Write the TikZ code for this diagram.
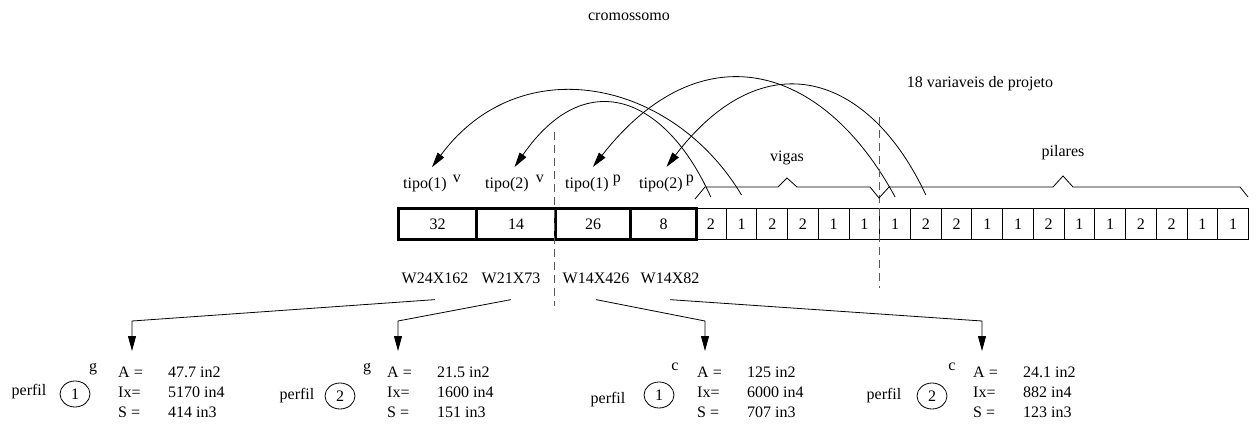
\documentclass[tikz,border=0pt]{standalone}
\usepackage{fontspec}
\setmainfont{Liberation Serif}
\usetikzlibrary{arrows.meta,shapes.geometric}

\tikzset{
  gene/.style={draw, line width=3pt, minimum height=31pt, inner sep=0pt, anchor=west},
  bit/.style={draw, line width=0.9pt, minimum height=31pt, minimum width=30.72pt, inner sep=0pt, anchor=west},
  tipo/.style={anchor=base west, inner xsep=0pt},
  seta/.style={line width=0.8pt, -{Triangle[length=15pt,width=8pt]}},
  corte/.style={black!65, line width=1pt, dash pattern=on 8pt off 5pt},
  bitola/.style={inner ysep=16pt},
  bola/.style={draw, ellipse, line width=0.8pt, minimum width=30pt, minimum height=26pt, inner sep=0pt},
  dados/.style={anchor=north west, inner xsep=0pt, inner ysep=12pt}
}
\newcommand{\tabperfil}[3]{%
  \renewcommand{\arraystretch}{1.04}%
  \begin{tabular}{@{}p{50pt}@{}l@{}}A = & #1\\ Ix= & #2\\ S = & #3\end{tabular}}

\begin{document}
\begin{tikzpicture}[x=1pt, y=-1pt, font=\fontsize{16}{19.2}\selectfont]
  \useasboundingbox (0,0) rectangle (1258,439);
  \node (titulo) at (629,17) {cromossomo};
  \node (nvar) at (980,84) {18 variaveis de projeto};

  % genes de tipo
  \foreach \x/\w/\v [count=\i] in {397/78/32, 475/79/14, 554/75/26, 629/66/8}
    \node[gene, minimum width=\w pt] (t\i) at (\x,224) {\v};
  % 18 variaveis de projeto
  \foreach \v [count=\i] in {2,1,2,2,1,1,1,2,2,1,1,2,1,1,2,2,1,1}
    \node[bit] (c\i) at ({695+(\i-1)*30.72},224) {\v};

  % tipos
  \node[tipo] (tv1) at (403,188) {tipo(1)\hspace{6pt}\raisebox{6pt}{v}};
  \node[tipo] (tv2) at (485,188) {tipo(2)\hspace{7pt}\raisebox{6pt}{v}};
  \node[tipo] (tp1) at (565,188) {tipo(1)\hspace{4pt}\raisebox{6pt}{p}};
  \node[tipo] (tp2) at (639,188) {tipo(2)\hspace{3pt}\raisebox{6pt}{p}};

  \draw[seta] ([yshift=13pt]c2.north) .. controls (672,79) and (520,48) .. ([yshift=4pt]tv1.north);
  \draw[seta] ([yshift=11pt]c1.north) .. controls (665,95) and (585,65) .. ([yshift=4pt]tv2.north);
  \draw[seta] ([yshift=11pt]c7.north) .. controls (822,62) and (700,30) .. ([yshift=4pt]tp1.north);
  \draw[seta] ([yshift=13pt]c8.north) .. controls (870,75) and (765,38) .. ([yshift=4pt]tp2.north);

  % cortes
  \draw[corte] (554,132) -- (554,306);
  \draw[corte] (879,117) -- (879,288);

  % chaves
  \draw[line width=0.8pt] (695,199) -- (705,187) -- (778,187) -- (787,178) -- (797,187) -- (870,187)
    -- (879,198) -- (889,187) -- (1053,187) -- (1063,176) -- (1073,187) -- (1240,187) -- (1248,197);
  \node (vigas) at (787,158) {vigas};
  \node (pilares) at (1063,153) {pilares};

  % bitolas
  \node[bitola] (w1) at (435,278) {W24X162};
  \node[bitola] (w2) at (511,278) {W21X73};
  \node[bitola] (w3) at (596,278) {W14X426};
  \node[bitola] (w4) at (670,278) {W14X82};

  % perfis
  \node (pf1) at (29,392) {perfil};
  \node[bola] (n1) at (75,394) {1};
  \node (e1) at (93,369) {g};
  \node[dados] (d1) at (118,351) {\tabperfil{47.7 in2}{5170 in4}{414 in3}};

  \node (pf2) at (297,396) {perfil};
  \node[bola] (n2) at (340,396) {2};
  \node (e2) at (367,369) {g};
  \node[dados] (d2) at (387,351) {\tabperfil{21.5 in2}{1600 in4}{151 in3}};

  \node (pf3) at (608,400) {perfil};
  \node[bola] (n3) at (659,395) {1};
  \node (e3) at (675,367) {c};
  \node[dados] (d3) at (697,351) {\tabperfil{125 in2}{6000 in4}{707 in3}};

  \node (pf4) at (884,396) {perfil};
  \node[bola] (n4) at (932,396) {2};
  \node (e4) at (952,367) {c};
  \node[dados] (d4) at (973,351) {\tabperfil{24.1 in2}{882 in4}{123 in3}};

  \foreach \i/\dx in {1/14, 2/11, 3/8, 4/9}
    \draw[seta] (w\i.south) -- ([xshift=\dx pt,yshift=30pt]d\i.north west) -- ([xshift=\dx pt]d\i.north west);
\end{tikzpicture}
\end{document}
